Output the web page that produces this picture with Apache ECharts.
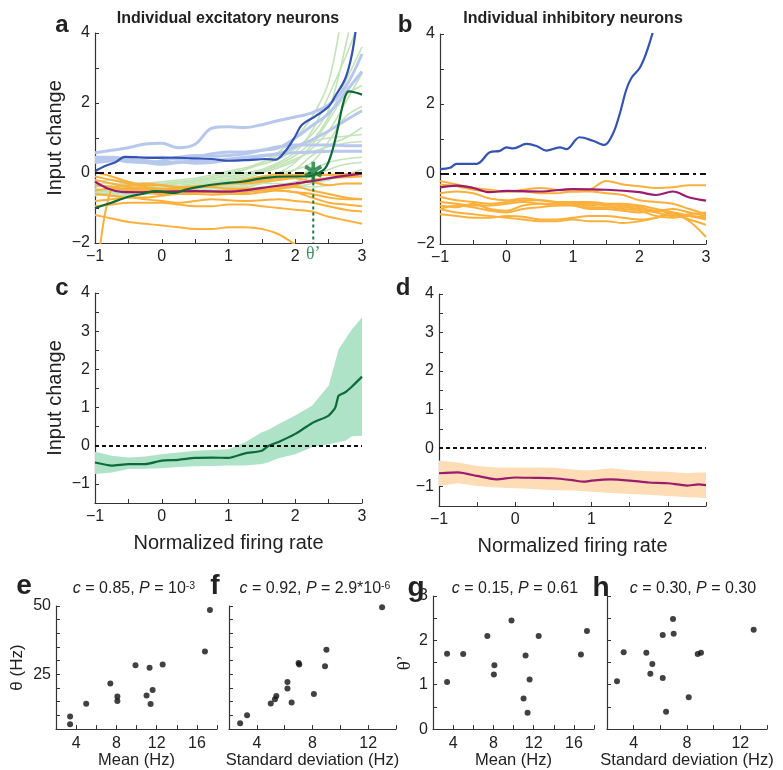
<!DOCTYPE html>
<html>
<head>
<meta charset="utf-8">
<script src="https://cdn.jsdelivr.net/npm/echarts@6/dist/echarts.min.js"></script>
<style>html,body{margin:0;padding:0;background:#fff}#main{width:783px;height:770px}</style>
</head>
<body>
<div id="main"></div>
<script>
// x samples used by the thin single-neuron curves (panels a, b)
const XA = [-1, -0.75, -0.5, -0.25, 0, 0.25, 0.5, 0.75, 1, 1.25, 1.5, 1.75, 2, 2.25, 2.5, 2.75, 3];

// panel a: light blue curves
const lightBlueA = [
  [0.58, 0.65, 0.72, 0.83, 0.85, 0.72, 0.82, 1.28, 1.32, 1.3, 1.38, 1.5, 1.6, 1.72, 1.95, 2.45, 3.4],
  [0.4, 0.38, 0.35, 0.42, 0.45, 0.4, 0.45, 0.55, 0.6, 0.6, 0.65, 0.72, 1.0, 1.35, 1.7, 2.3, 2.9],
  [0.3, 0.35, 0.4, 0.35, 0.3, 0.32, 0.28, 0.3, 0.38, 0.42, 0.48, 0.55, 0.75, 0.95, 1.2, 1.5, 1.78],
  [0.38, 0.4, 0.32, 0.3, 0.35, 0.45, 0.5, 0.48, 0.5, 0.55, 0.65, 0.75, 0.8, 0.8, 0.8, 0.78, 0.78],
  [0.45, 0.45, 0.38, 0.3, 0.25, 0.3, 0.35, 0.35, 0.4, 0.45, 0.5, 0.55, 0.58, 0.6, 0.62, 0.62, 0.62]
];
// panel a: light green curves
const lightGreenA = [
  [-0.35, -0.4, -0.45, -0.4, -0.35, -0.3, -0.25, -0.15, -0.05, 0.1, 0.3, 0.6, 1.0, 1.6, 2.6, 5.0, 7],
  [-0.5, -0.45, -0.4, -0.35, -0.3, -0.25, -0.2, -0.1, 0.0, 0.1, 0.25, 0.4, 0.7, 1.1, 1.8, 3.6, 6],
  [-0.45, -0.5, -0.5, -0.45, -0.4, -0.35, -0.3, -0.25, -0.2, -0.1, 0.05, 0.25, 0.5, 0.9, 1.6, 2.6, 3.6],
  [-0.6, -0.55, -0.5, -0.5, -0.45, -0.4, -0.35, -0.3, -0.2, -0.15, 0.0, 0.15, 0.35, 0.7, 1.2, 2.0, 2.85],
  [-0.3, -0.3, -0.35, -0.3, -0.25, -0.2, -0.15, -0.05, 0.05, 0.15, 0.3, 0.5, 0.75, 0.9, 1.0, 1.05, 1.1],
  [-0.55, -0.6, -0.55, -0.5, -0.5, -0.45, -0.4, -0.4, -0.35, -0.3, -0.2, -0.1, 0.1, 0.5, 0.8, 1.0, 1.3],
  [-0.4, -0.35, -0.3, -0.3, -0.35, -0.3, -0.25, -0.2, -0.15, -0.05, 0.05, 0.2, 0.4, 0.6, 0.75, 0.85, 0.9],
  [-0.65, -0.6, -0.6, -0.55, -0.55, -0.5, -0.5, -0.45, -0.4, -0.4, -0.3, -0.2, -0.1, 0.1, 0.3, 0.4, 0.45],
  [-0.5, -0.55, -0.6, -0.6, -0.55, -0.55, -0.5, -0.5, -0.45, -0.45, -0.4, -0.35, -0.25, -0.1, 0.1, 0.25, 0.3],
  [-0.35, -0.4, -0.45, -0.5, -0.45, -0.4, -0.35, -0.3, -0.25, -0.2, -0.1, 0.0, 0.1, 0.3, 0.9, 1.6, 1.9],
  [-0.6, -0.65, -0.65, -0.6, -0.6, -0.6, -0.55, -0.55, -0.55, -0.5, -0.5, -0.45, -0.4, -0.3, -0.2, -0.05, 0.1],
  [-0.45, -0.5, -0.5, -0.55, -0.5, -0.45, -0.45, -0.4, -0.35, -0.3, -0.2, 0.0, 0.3, 0.8, 1.5, 2.2, 2.5],
  [-0.25, -0.2, -0.25, -0.3, -0.3, -0.25, -0.2, -0.15, -0.1, 0.0, 0.1, 0.3, 0.6, 1.2, 2.2, 3.3, 4.5],
  [-0.55, -0.5, -0.45, -0.45, -0.5, -0.5, -0.45, -0.4, -0.4, -0.35, -0.3, -0.3, -0.35, -0.4, -0.35, -0.3, -0.3]
];
// panel a: orange curves
const orangeA = [
  [-3.5, -0.45, -0.35, -0.3, -0.35, -0.4, -0.38, -0.35, -0.3, -0.25, -0.2, -0.15, -0.1, -0.08, -0.05, -0.03, 0.0],
  [0.02, -0.1, -0.25, -0.35, -0.35, -0.4, -0.4, -0.35, -0.3, -0.2, -0.1, -0.05, -0.05, -0.02, -0.05, -0.05, -0.05],
  [-0.1, -0.2, -0.3, -0.4, -0.45, -0.45, -0.4, -0.4, -0.45, -0.45, -0.45, -0.4, -0.35, -0.2, -0.15, -0.12, -0.1],
  [-0.2, -0.3, -0.4, -0.45, -0.5, -0.5, -0.5, -0.55, -0.5, -0.45, -0.45, -0.5, -0.55, -0.6, -0.7, -0.75, -0.75],
  [-0.35, -0.4, -0.5, -0.55, -0.6, -0.6, -0.55, -0.55, -0.6, -0.6, -0.55, -0.5, -0.55, -0.7, -0.85, -0.9, -0.95],
  [-0.8, -0.75, -0.7, -0.75, -0.8, -0.85, -0.8, -0.75, -0.78, -0.8, -0.78, -0.75, -0.8, -0.85, -0.95, -1.05, -1.1],
  [-0.95, -0.9, -0.85, -0.85, -0.85, -0.9, -0.95, -0.95, -0.9, -0.9, -0.95, -1.0, -1.05, -1.1, -1.25, -1.35, -1.45],
  [-1.2, -1.3, -1.4, -1.45, -1.5, -1.55, -1.6, -1.6, -1.55, -1.55, -1.6, -1.75, -2.05, -2.4, -2.8, -3.2, -3.6],
  [-0.6, -0.65, -0.7, -0.7, -0.65, -0.6, -0.6, -0.62, -0.6, -0.55, -0.5, -0.45, -0.4, -0.5, -0.6, -0.7, -0.75],
  [-0.5, -0.45, -0.45, -0.5, -0.5, -0.45, -0.4, -0.35, -0.3, -0.3, -0.25, -0.2, -0.15, -0.25, -0.35, -0.3, -0.3]
];
// panel a: highlighted neurons, [x, y]
const blueA = [[-1, 0.05], [-0.85, 0.2], [-0.7, 0.3], [-0.55, 0.46], [-0.35, 0.45], [-0.1, 0.43], [0.2, 0.44], [0.45, 0.42],
  [0.75, 0.4], [1.0, 0.35], [1.3, 0.37], [1.55, 0.4], [1.7, 0.38], [1.85, 0.62], [2.0, 1.05], [2.1, 1.38], [2.3, 1.62],
  [2.5, 1.9], [2.6, 2.2], [2.75, 2.7], [2.85, 3.4], [2.92, 4.3]];
const darkGreenA = [[-1, -1.0], [-0.8, -0.88], [-0.5, -0.68], [-0.3, -0.6], [-0.1, -0.52], [0.2, -0.57], [0.35, -0.48], [0.6, -0.38],
  [0.9, -0.3], [1.2, -0.25], [1.55, -0.14], [1.9, -0.1], [2.15, -0.1], [2.3, -0.04], [2.45, 0.14], [2.55, 0.6], [2.64, 1.3],
  [2.72, 2.0], [2.8, 2.33], [2.9, 2.3], [3.0, 2.24]];
const purpleA = [[-1, -0.25], [-0.8, -0.45], [-0.6, -0.54], [-0.3, -0.55], [0, -0.53], [0.5, -0.52], [1, -0.53], [1.3, -0.48],
  [1.6, -0.4], [2.0, -0.3], [2.3, -0.22], [2.6, -0.12], [3, -0.02]];
const thetaPrime = 2.27;   // threshold of the example neuron
const starY = 0.05;

// panel b
const orangeB = [
  [-0.2, -0.3, -0.4, -0.45, -0.5, -0.45, -0.4, -0.45, -0.5, -0.45, -0.2, -0.3, -0.35, -0.4, -0.38, -0.32, -0.32],
  [-0.3, -0.35, -0.45, -0.5, -0.5, -0.5, -0.55, -0.55, -0.5, -0.5, -0.55, -0.6, -0.75, -0.8, -0.85, -1.0, -1.15],
  [-0.55, -0.5, -0.55, -0.7, -0.75, -0.7, -0.75, -0.8, -0.8, -0.8, -0.85, -0.9, -0.95, -1.05, -1.0, -1.1, -1.2],
  [-0.65, -0.75, -0.8, -0.85, -0.8, -0.75, -0.75, -0.8, -0.85, -0.9, -0.85, -0.85, -0.9, -1.0, -1.1, -1.35, -1.8],
  [-0.8, -0.85, -0.9, -0.9, -0.85, -0.8, -0.85, -0.9, -0.9, -0.95, -0.95, -1.0, -1.05, -1.2, -1.25, -1.2, -1.25],
  [-0.9, -0.95, -0.85, -1.0, -1.05, -0.9, -0.85, -0.85, -0.9, -1.0, -1.0, -1.05, -1.1, -1.05, -1.15, -1.3, -1.45],
  [-1.0, -0.9, -0.95, -1.05, -1.1, -1.0, -0.95, -0.9, -0.85, -0.85, -0.9, -0.95, -1.0, -1.1, -1.2, -1.15, -1.1],
  [-1.15, -1.2, -1.25, -1.25, -1.2, -1.22, -1.3, -1.3, -1.25, -1.2, -1.2, -1.25, -1.3, -1.25, -1.15, -1.2, -1.25],
  [-1.0, -1.1, -1.15, -1.2, -1.25, -1.3, -1.35, -1.35, -1.3, -1.35, -1.35, -1.4, -1.35, -1.25, -1.1, -1.2, -1.3]
];
const blueB = [[-1, 0.14], [-0.85, 0.18], [-0.75, 0.29], [-0.45, 0.29], [-0.25, 0.62], [-0.1, 0.66], [0, 0.76], [0.1, 0.73],
  [0.3, 0.86], [0.45, 0.8], [0.6, 0.67], [0.8, 0.76], [0.9, 0.71], [1.1, 1.05], [1.3, 0.95], [1.47, 0.83], [1.6, 1.15],
  [1.7, 1.7], [1.8, 2.4], [1.88, 2.75], [2.0, 3.02], [2.1, 3.45], [2.2, 4.05]];
const purpleB = [[-1, -0.38], [-0.75, -0.33], [-0.5, -0.4], [-0.25, -0.52], [0, -0.48], [0.5, -0.5], [1, -0.43], [1.5, -0.45],
  [2, -0.52], [2.25, -0.6], [2.5, -0.5], [2.75, -0.67], [3, -0.76]];

// panel c: population mean +- sd (excitatory)
const XC = [-1, -0.75, -0.5, -0.25, 0, 0.25, 0.5, 0.75, 1, 1.25, 1.5, 1.6, 1.75, 2, 2.25, 2.5, 2.6, 2.65, 2.75, 2.85, 3];
const meanC = [-0.44, -0.52, -0.48, -0.48, -0.39, -0.37, -0.32, -0.31, -0.32, -0.2, -0.13, 0, 0.1, 0.31, 0.59, 0.79, 1.0, 1.31, 1.4, 1.55, 1.81];
const hiC = [-0.16, -0.26, -0.31, -0.28, -0.22, -0.18, -0.13, -0.11, -0.09, 0.09, 0.35, 0.42, 0.57, 0.79, 1.05, 1.57, 2.2, 2.53, 2.79, 3.05, 3.36];
const loC = [-0.74, -0.7, -0.61, -0.6, -0.59, -0.56, -0.54, -0.53, -0.52, -0.52, -0.48, -0.43, -0.33, -0.22, -0.04, 0.04, 0.08, 0.1, 0.13, 0.25, 0.26];

// panel d: population mean +- sd (inhibitory)
const XD = [-1, -0.75, -0.5, -0.25, 0, 0.25, 0.5, 0.75, 0.9, 1, 1.25, 1.5, 1.75, 2, 2.25, 2.4, 2.5];
const meanD = [-0.65, -0.63, -0.72, -0.81, -0.76, -0.77, -0.78, -0.83, -0.87, -0.84, -0.81, -0.84, -0.89, -0.91, -0.97, -0.94, -0.96];
const hiD = [-0.32, -0.37, -0.46, -0.5, -0.5, -0.5, -0.51, -0.55, -0.57, -0.57, -0.52, -0.57, -0.6, -0.61, -0.65, -0.63, -0.63];
const loD = [-0.98, -0.91, -0.98, -1.02, -1.04, -1.06, -1.09, -1.1, -1.12, -1.13, -1.16, -1.19, -1.21, -1.24, -1.27, -1.28, -1.3];

// panels e-h: per-neuron statistics
const meanHz = [3.4, 3.4, 5.0, 7.4, 8.1, 8.1, 9.9, 11.0, 11.3, 11.4, 11.6, 12.6, 16.8, 17.3];
const thetaE = [6.8, 9.6, 14.3, 21.7, 16.9, 15.3, 28.3, 17.3, 27.4, 14.2, 19.3, 28.6, 33.4, 48.5];
const sdHz = [2.8, 3.3, 5.0, 5.3, 5.4, 6.2, 6.2, 6.5, 7.0, 7.05, 8.1, 8.9, 9.0, 13.0];
const thetaF = [7.1, 10.1, 14.4, 15.9, 17.1, 22.2, 19.8, 14.7, 29.2, 28.6, 17.8, 28.0, 34.0, 49.5];
const meanG = [3.4, 3.4, 5.0, 7.4, 8.1, 8.05, 9.8, 11.0, 11.2, 11.4, 11.6, 12.5, 16.7, 17.3];
const thetaPG = [1.70, 1.06, 1.69, 2.10, 1.44, 1.23, 2.45, 0.69, 1.66, 0.37, 1.12, 2.10, 1.68, 2.21];
const sdH = [2.75, 3.25, 4.95, 5.25, 5.4, 6.18, 6.18, 6.43, 6.95, 7.0, 8.13, 8.8, 9.05, 13.0];
const thetaPH = [1.08, 1.73, 1.72, 1.25, 1.47, 1.15, 2.12, 0.39, 2.48, 2.15, 0.72, 1.69, 1.72, 2.24];

const FONT = "'Liberation Sans', Arial, sans-serif";
const AX = '#333';
const C = {
  lblue: '#b7c8ec', blue: '#3353b5', lgreen: '#c2e4b6', dgreen: '#0d6b3a', orange: '#fbb03b',
  purple: '#9b1b6e', mint: '#aee3c8', peach: '#fddcb6', star: '#137a3e'
};
const minus = v => String(v).replace('-', '\u2212');
const zip = (xs, ys) => xs.map((x, i) => [x, ys[i]]);

function xAx(grid, min, max, interval, show, name, gap, size) {
  return {
    type: 'value', gridIndex: grid, min: min, max: max, interval: interval,
    axisLine: { onZero: false, lineStyle: { color: AX, width: 1.2 } },
    axisTick: { inside: true, length: 4, lineStyle: { color: AX } },
    splitLine: { show: false },
    axisLabel: { fontFamily: FONT, fontSize: 16, color: '#222', margin: 6,
      formatter: v => show(v) ? minus(v) : '' },
    name: name || '', nameLocation: 'middle', nameGap: gap || 30,
    nameTextStyle: { fontFamily: FONT, fontSize: size || 20, color: '#222' }
  };
}
function yAx(grid, min, max, interval, show, name, gap, size, nameFont) {
  return {
    type: 'value', gridIndex: grid, min: min, max: max, interval: interval,
    axisLine: { show: true, onZero: false, lineStyle: { color: AX, width: 1.2 } },
    axisTick: { show: true, inside: true, length: 4, lineStyle: { color: AX } },
    splitLine: { show: false },
    axisLabel: { fontFamily: FONT, fontSize: 16, color: '#222', margin: 5,
      formatter: v => show(v) ? minus(v) : '' },
    name: name || '', nameLocation: 'middle', nameGap: gap || 30, nameRotate: 90,
    nameTextStyle: { fontFamily: nameFont || FONT, fontSize: size || 20, color: '#222' }
  };
}
function line(grid, pts, color, width, z, extra) {
  return Object.assign({
    type: 'line', xAxisIndex: grid, yAxisIndex: grid, data: pts, smooth: 0.35,
    symbol: 'none', silent: true, z: z, lineStyle: { color: color, width: width }
  }, extra || {});
}
function band(grid, xs, lo, hi, color) {
  return {
    type: 'custom', xAxisIndex: grid, yAxisIndex: grid, data: [[xs[0], lo[0]]], silent: true, z: 1, clip: true,
    renderItem: (params, api) => {
      const pts = xs.map((x, i) => api.coord([x, hi[i]]))
        .concat(xs.map((x, i) => api.coord([x, lo[i]])).reverse());
      return { type: 'polygon', shape: { points: pts }, style: { fill: color } };
    }
  };
}
function dots(grid, xs, ys) {
  return { type: 'scatter', xAxisIndex: grid, yAxisIndex: grid, data: zip(xs, ys), symbolSize: 6,
    itemStyle: { color: '#111' }, silent: true };
}
const zeroMark = (type, width) => ({
  silent: true, symbol: 'none', label: { show: false },
  lineStyle: { color: '#111', width: width, type: type }, data: [{ yAxis: 0 }]
});

const isInt = v => Number.isInteger(v);
const isEven = v => Number.isInteger(v) && v % 2 === 0;

const series = [];
// ---- panel a
lightGreenA.forEach(ys => series.push(line(0, zip(XA, ys), C.lgreen, 1.6, 1)));
lightBlueA.forEach(ys => series.push(line(0, zip(XA, ys), C.lblue, 3, 1)));
orangeA.forEach(ys => series.push(line(0, zip(XA, ys), C.orange, 2, 2)));
series.push(line(0, purpleA, C.purple, 2.2, 4, { markLine: zeroMark([9, 4, 3, 4], 2.2) }));
series.push(line(0, darkGreenA, C.dgreen, 2.2, 5));
series.push(line(0, blueA, C.blue, 2.2, 5));
series.push(line(0, [[thetaPrime, starY - 0.15], [thetaPrime, -2]], C.star, 2, 5,
  { smooth: false, lineStyle: { color: C.star, width: 2, type: [3, 3] } }));
series.push({
  type: 'scatter', xAxisIndex: 0, yAxisIndex: 0, data: [[thetaPrime, starY]], z: 8, silent: true,
  symbol: 'path://M-2,-10L2,-10L2,10L-2,10Z M-9.66,-3.27L-7.66,-6.73L9.66,3.27L7.66,6.73Z M7.66,-6.73L9.66,-3.27L-7.66,6.73L-9.66,3.27Z',
  symbolSize: [18, 19], itemStyle: { color: C.star }
});
series.push({
  type: 'scatter', xAxisIndex: 0, yAxisIndex: 0, data: [[thetaPrime, -2]], symbolSize: 0, silent: true, clip: false,
  label: { show: true, position: 'bottom', distance: 2, formatter: 'θ\u2019',
    fontFamily: "'Liberation Serif', serif", fontSize: 18, color: C.star }
});
// ---- panel b
orangeB.forEach(ys => series.push(line(1, zip(XA, ys), C.orange, 2, 2)));
series.push(line(1, purpleB, C.purple, 2.2, 4, { markLine: zeroMark([9, 4, 3, 4], 2.2) }));
series.push(line(1, blueB, C.blue, 2.2, 5));
// ---- panel c
series.push(band(2, XC, loC, hiC, C.mint));
series.push(line(2, zip(XC, meanC), C.dgreen, 2.2, 4, { smooth: 0.2, markLine: zeroMark([4, 3], 2) }));
// ---- panel d
series.push(band(3, XD, loD, hiD, C.peach));
series.push(line(3, zip(XD, meanD), C.purple, 2.2, 4, { smooth: 0.2, markLine: zeroMark([4, 3], 2) }));
// ---- panels e-h
series.push(dots(4, meanHz, thetaE));
series.push(dots(5, sdHz, thetaF));
series.push(dots(6, meanG, thetaPG));
series.push(dots(7, sdH, thetaPH));

const grids = [
  { left: 95, top: 33, width: 267, height: 210 },
  { left: 440, top: 34, width: 266, height: 210 },
  { left: 95, top: 293, width: 267, height: 210 },
  { left: 439, top: 294, width: 267, height: 212 },
  { left: 56, top: 606, width: 161, height: 124 },
  { left: 229, top: 606, width: 167, height: 124 },
  { left: 433, top: 596, width: 161, height: 134 },
  { left: 607, top: 596, width: 160, height: 134 }
];

const xAxes = [
  xAx(0, -1, 3, 0.5, isInt),
  xAx(1, -1, 3, 0.5, isInt),
  xAx(2, -1, 3, 0.5, isInt, 'Normalized firing rate', 30, 20),
  xAx(3, -1, 2.5, 0.5, isInt, 'Normalized firing rate', 30, 20),
  xAx(4, 2, 18, 2, v => v % 4 === 0, 'Mean (Hz)', 19, 16.5),
  xAx(5, 2, 14, 2, v => v % 4 === 0, 'Standard deviation (Hz)', 19, 16.5),
  xAx(6, 2, 18, 2, v => v % 4 === 0, 'Mean (Hz)', 19, 16.5),
  xAx(7, 2, 14, 2, v => v % 4 === 0, 'Standard deviation (Hz)', 19, 16.5)
];
const yAxes = [
  yAx(0, -2, 4, 1, isEven, 'Input change', 30, 20),
  yAx(1, -2, 4, 1, isEven),
  yAx(2, -1.5, 4, 0.5, isInt, 'Input change', 30, 20),
  yAx(3, -1.5, 4, 0.5, isInt),
  yAx(4, 5, 50, 5, v => v % 25 === 0, 'θ (Hz)', 30, 17),
  yAx(5, 5, 50, 5, () => false),
  yAx(6, 0, 3, 0.5, isInt, 'θ\u2019', 18, 19, "'Liberation Serif', serif"),
  yAx(7, 0, 3, 0.5, () => false)
];

const txt = (x, y, text, size, bold, extra) => ({
  type: 'text', x: x, y: y, silent: true,
  style: Object.assign({ text: text, fontFamily: FONT, fontSize: size, fontWeight: bold ? 'bold' : 'normal',
    fill: '#222', align: 'center', verticalAlign: 'middle' }, extra || {})
});
const statRich = {
  i: { fontFamily: FONT, fontSize: 16, fontStyle: 'italic', fill: '#222' },
  s: { fontFamily: FONT, fontSize: 10.5, verticalAlign: 'top', fill: '#222' }
};
const stat = (x, t) => txt(x, 589, t, 16, false, { rich: statRich });

const graphics = [
  txt(228, 19, 'Individual excitatory neurons', 16, true),
  txt(573, 19, 'Individual inhibitory neurons', 16, true),
  txt(62, 25, 'a', 24, true), txt(405, 25, 'b', 24, true),
  txt(62, 288, 'c', 24, true), txt(403, 288, 'd', 24, true),
  txt(24, 586, 'e', 28, true), txt(215, 586, 'f', 28, true),
  txt(416, 588, 'g', 28, true), txt(601, 588, 'h', 28, true),
  stat(134, '{i|c} = 0.85, {i|P} = 10{s|-3}'),
  stat(315, '{i|c} = 0.92, {i|P} = 2.9*10{s|-6}'),
  stat(515, '{i|c} = 0.15, {i|P} = 0.61'),
  stat(693, '{i|c} = 0.30, {i|P} = 0.30')
];

const chart = echarts.init(document.getElementById('main'), null, { renderer: 'canvas' });
chart.setOption({
  animation: false,
  backgroundColor: '#fff',
  grid: grids,
  xAxis: xAxes,
  yAxis: yAxes,
  series: series,
  graphic: graphics
});
</script>
</body>
</html>
